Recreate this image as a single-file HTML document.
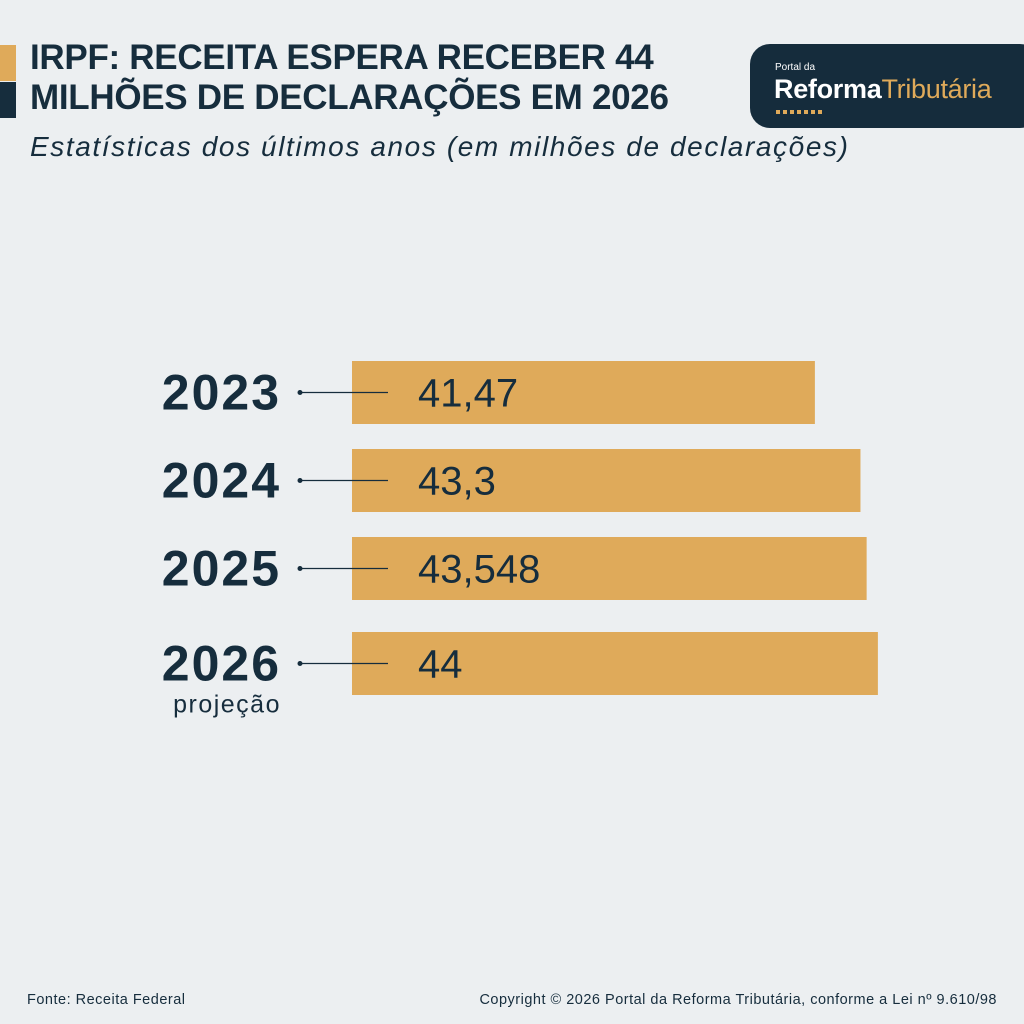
<!DOCTYPE html>
<html><head><meta charset="utf-8"><style>
body{margin:0;width:1024px;height:1024px;background:#eceff1;position:relative;overflow:hidden;font-family:"Liberation Sans",sans-serif;color:#162d3d}
.abs{position:absolute}
.title{left:30px;top:38px;font-size:35px;font-weight:bold;line-height:40px;letter-spacing:-0.3px;white-space:nowrap}
.sub{left:30px;top:131px;font-size:28px;font-style:italic;white-space:nowrap;letter-spacing:1.6px}
.foot{top:992px;font-size:14.5px;letter-spacing:0.5px}
</style></head><body>
<div class="abs" style="left:0;top:45px;width:16px;height:36px;background:#dfaa5a"></div>
<div class="abs" style="left:0;top:82px;width:16px;height:36px;background:#162d3d"></div>
<div class="abs title">IRPF: RECEITA ESPERA RECEBER 44<br>MILHÕES DE DECLARAÇÕES EM 2026</div>
<div class="abs sub">Estatísticas dos últimos anos (em milhões de declarações)</div>
<div class="abs" style="left:750px;top:44px;width:290px;height:84px;background:#152c3c;border-radius:20px">
  <div class="abs" style="left:25px;top:18px;font-size:10px;color:#fff">Portal da</div>
  <div class="abs" style="left:24px;top:30px;font-size:27px;white-space:nowrap;letter-spacing:-0.3px"><b style="color:#fff">Reforma</b><span style="color:#dfaa5a">Tributária</span></div>
  <div class="abs" style="left:26px;top:66px;width:46px;height:4px;background:repeating-linear-gradient(90deg,#dfaa5a 0 4px,transparent 4px 7px)"></div>
</div>
<svg class="abs" style="left:0;top:0" width="1024" height="1024" id="chart"></svg>
<div class="abs foot" style="left:27px">Fonte: Receita Federal</div>
<div class="abs foot" style="right:27px">Copyright © 2026 Portal da Reforma Tributária, conforme a Lei nº 9.610/98</div>
<script>
const years=["2023","2024","2025","2026"];
const values=[41.47,43.3,43.548,44];
const valueLabels=["41,47","43,3","43,548","44"];
const notes=["","","","projeção"];
const barTops=[361,449,537,632];
const ns="http://www.w3.org/2000/svg";
const svg=document.getElementById('chart');
function x(v){return 352+(v-22.88)*24.9;}
function mk(t,a){const e=document.createElementNS(ns,t);for(const k in a)e.setAttribute(k,a[k]);svg.appendChild(e);return e;}
years.forEach((y,i)=>{
  const top=barTops[i],h=63,c=top+h/2;
  const b=mk('rect',{x:352,y:top,width:x(values[i])-352,height:h,fill:'#dfaa5a'});
  
  
  const l=mk('line',{x1:300,y1:c,x2:388,y2:c,stroke:'#162d3d','stroke-width':1.2});
  
  
  const d=mk('circle',{cx:300,cy:c,r:2.5,fill:'#162d3d'});
  
  
  const t=mk('text',{x:281,y:c+17,'text-anchor':'end','font-size':50,'font-weight':'bold',fill:'#162d3d','font-family':'Liberation Sans, sans-serif','letter-spacing':'2'});
  t.textContent=y;
  
  
  const v=mk('text',{x:418,y:c+14,'font-size':40,fill:'#162d3d','font-family':'Liberation Sans, sans-serif'});
  v.textContent=valueLabels[i];
  
  
  if(notes[i]){
    const n=mk('text',{x:281,y:c+49,'text-anchor':'end','font-size':25,fill:'#162d3d','font-family':'Liberation Sans, sans-serif','letter-spacing':'1.5'});
    n.textContent=notes[i];
    
    
  }
});
</script>
</body></html>
